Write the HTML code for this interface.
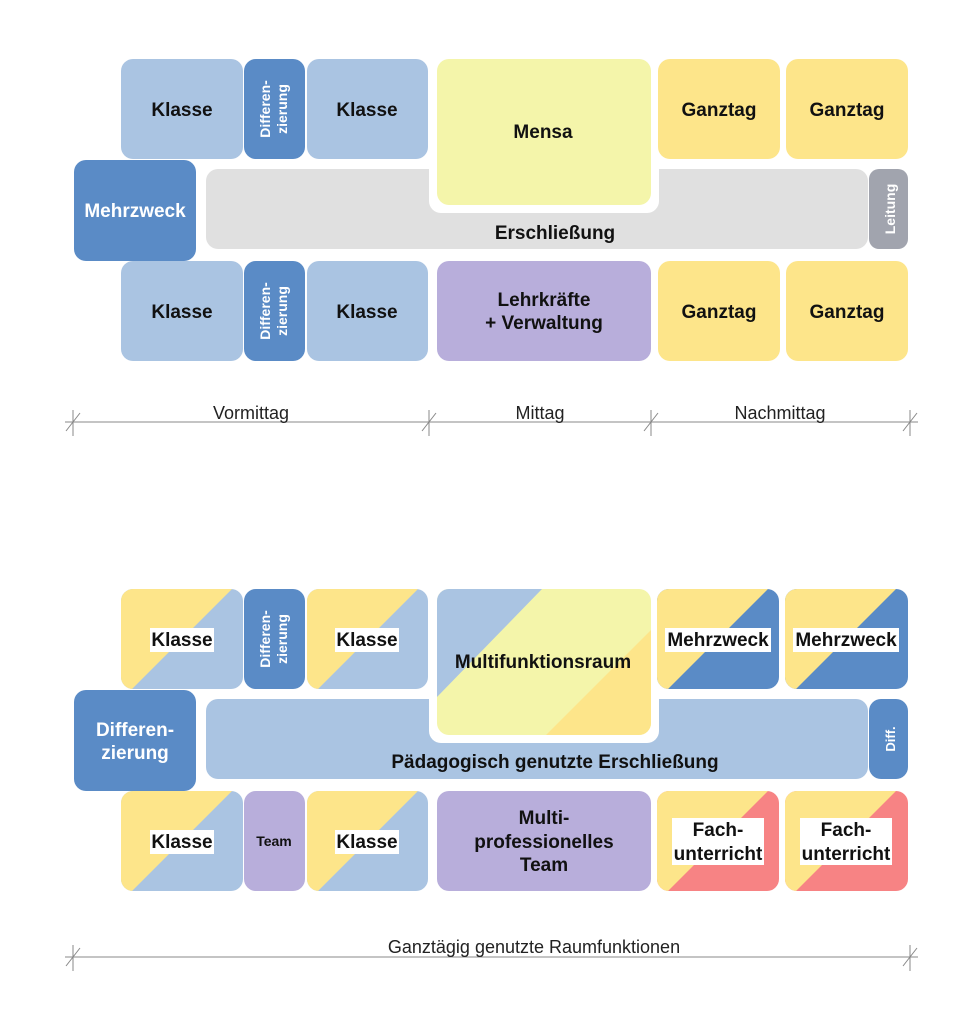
<!DOCTYPE html>
<html><head><meta charset="utf-8"><style>
html,body{margin:0;padding:0;background:#fff;}
svg{display:block;}
text{font-family:"Liberation Sans",Arial,sans-serif;font-weight:bold;font-size:19px;fill:#111;text-anchor:middle;}
.w{fill:#fff;}
.n{font-weight:normal;font-size:18px;fill:#222;}
</style></head><body>
<svg width="977" height="1024" viewBox="0 0 977 1024" xmlns="http://www.w3.org/2000/svg">
<defs>
<clipPath id="c1"><rect x="121" y="589" width="122" height="100" rx="12"/></clipPath>
<clipPath id="c2"><rect x="307" y="589" width="121" height="100" rx="12"/></clipPath>
<clipPath id="c3"><rect x="121" y="791" width="122" height="100" rx="12"/></clipPath>
<clipPath id="c4"><rect x="307" y="791" width="121" height="100" rx="12"/></clipPath>
<clipPath id="c5"><rect x="657" y="589" width="122" height="100" rx="12"/></clipPath>
<clipPath id="c6"><rect x="785" y="589" width="123" height="100" rx="12"/></clipPath>
<clipPath id="c7"><rect x="657" y="791" width="122" height="100" rx="12"/></clipPath>
<clipPath id="c8"><rect x="785" y="791" width="123" height="100" rx="12"/></clipPath>
<clipPath id="c9"><rect x="437" y="589" width="214" height="146" rx="12"/></clipPath>
</defs>

<!-- ===== TOP ===== -->
<rect x="206" y="169" width="662" height="80" rx="12" fill="#e0e0e0"/>
<rect x="429" y="150" width="230" height="63" rx="12" fill="#fff"/>
<rect x="437" y="59" width="214" height="146" rx="12" fill="#f4f5aa"/>
<text x="543" y="138">Mensa</text>
<text x="555" y="239">Erschließung</text>

<rect x="121" y="59" width="122" height="100" rx="12" fill="#aac4e2"/>
<rect x="307" y="59" width="121" height="100" rx="12" fill="#aac4e2"/>
<rect x="244" y="59" width="61" height="100" rx="12" fill="#5a8bc6"/>
<text x="182" y="116">Klasse</text>
<text x="367" y="116">Klasse</text>
<text transform="translate(270,109) rotate(-90)" class="w" style="font-size:14px">Differen-</text>
<text transform="translate(287,109) rotate(-90)" class="w" style="font-size:14px">zierung</text>

<rect x="74" y="160" width="122" height="101" rx="12" fill="#5a8bc6"/>
<text x="135" y="217" class="w">Mehrzweck</text>

<rect x="869" y="169" width="39" height="80" rx="10" fill="#a1a4ae"/>
<text transform="translate(895,209) rotate(-90)" class="w" style="font-size:14px">Leitung</text>

<rect x="658" y="59" width="122" height="100" rx="12" fill="#fde58a"/>
<rect x="786" y="59" width="122" height="100" rx="12" fill="#fde58a"/>
<text x="719" y="116">Ganztag</text>
<text x="847" y="116">Ganztag</text>

<rect x="121" y="261" width="122" height="100" rx="12" fill="#aac4e2"/>
<rect x="307" y="261" width="121" height="100" rx="12" fill="#aac4e2"/>
<rect x="244" y="261" width="61" height="100" rx="12" fill="#5a8bc6"/>
<text x="182" y="318">Klasse</text>
<text x="367" y="318">Klasse</text>
<text transform="translate(270,311) rotate(-90)" class="w" style="font-size:14px">Differen-</text>
<text transform="translate(287,311) rotate(-90)" class="w" style="font-size:14px">zierung</text>

<rect x="437" y="261" width="214" height="100" rx="12" fill="#b8aedb"/>
<text x="544" y="306">Lehrkräfte</text>
<text x="544" y="329">+ Verwaltung</text>

<rect x="658" y="261" width="122" height="100" rx="12" fill="#fde58a"/>
<rect x="786" y="261" width="122" height="100" rx="12" fill="#fde58a"/>
<text x="719" y="318">Ganztag</text>
<text x="847" y="318">Ganztag</text>

<g stroke="#888" stroke-width="1">
<line x1="65" y1="422" x2="918" y2="422"/>
<line x1="73" y1="410" x2="73" y2="436"/><line x1="66" y1="431" x2="80" y2="413"/>
<line x1="429" y1="410" x2="429" y2="436"/><line x1="422" y1="431" x2="436" y2="413"/>
<line x1="651" y1="410" x2="651" y2="436"/><line x1="644" y1="431" x2="658" y2="413"/>
<line x1="910" y1="410" x2="910" y2="436"/><line x1="903" y1="431" x2="917" y2="413"/>
</g>
<text x="251" y="419" class="n">Vormittag</text>
<text x="540" y="419" class="n">Mittag</text>
<text x="780" y="419" class="n">Nachmittag</text>

<!-- ===== BOTTOM ===== -->
<rect x="206" y="699" width="662" height="80" rx="12" fill="#aac4e2"/>
<rect x="429" y="680" width="230" height="63" rx="12" fill="#fff"/>
<g clip-path="url(#c9)">
<rect x="437" y="589" width="214" height="146" fill="#f4f5aa"/>
<polygon points="437,589 542,589 437,697" fill="#aac4e2"/>
<polygon points="651,630 651,735 546,735" fill="#fde58a"/>
</g>
<text x="543" y="668">Multifunktionsraum</text>
<text x="555" y="768">Pädagogisch genutzte Erschließung</text>

<g clip-path="url(#c1)"><rect x="121" y="589" width="122" height="100" fill="#aac4e2"/><polygon points="121,589 232,589 132,689 121,689" fill="#fde58a"/></g>
<g clip-path="url(#c2)"><rect x="307" y="589" width="121" height="100" fill="#aac4e2"/><polygon points="307,589 418,589 318,689 307,689" fill="#fde58a"/></g>
<g clip-path="url(#c3)"><rect x="121" y="791" width="122" height="100" fill="#aac4e2"/><polygon points="121,791 232,791 132,891 121,891" fill="#fde58a"/></g>
<g clip-path="url(#c4)"><rect x="307" y="791" width="121" height="100" fill="#aac4e2"/><polygon points="307,791 418,791 318,891 307,891" fill="#fde58a"/></g>
<g clip-path="url(#c5)"><rect x="657" y="589" width="122" height="100" fill="#5a8bc6"/><polygon points="657,589 768,589 668,689 657,689" fill="#fde58a"/></g>
<g clip-path="url(#c6)"><rect x="785" y="589" width="123" height="100" fill="#5a8bc6"/><polygon points="785,589 896,589 796,689 785,689" fill="#fde58a"/></g>
<g clip-path="url(#c7)"><rect x="657" y="791" width="122" height="100" fill="#f78384"/><polygon points="657,791 768,791 668,891 657,891" fill="#fde58a"/></g>
<g clip-path="url(#c8)"><rect x="785" y="791" width="123" height="100" fill="#f78384"/><polygon points="785,791 896,791 796,891 785,891" fill="#fde58a"/></g>

<rect x="244" y="589" width="61" height="100" rx="12" fill="#5a8bc6"/>
<text transform="translate(270,639) rotate(-90)" class="w" style="font-size:14px">Differen-</text>
<text transform="translate(287,639) rotate(-90)" class="w" style="font-size:14px">zierung</text>
<rect x="244" y="791" width="61" height="100" rx="12" fill="#b8aedb"/>
<text x="274" y="846" style="font-size:14px">Team</text>

<g fill="#fff">
<rect x="150" y="628" width="64" height="24"/><rect x="335" y="628" width="64" height="24"/>
<rect x="150" y="830" width="64" height="24"/><rect x="335" y="830" width="64" height="24"/>
<rect x="665" y="628" width="106" height="24"/><rect x="793" y="628" width="106" height="24"/>
<rect x="672" y="818" width="92" height="47"/><rect x="800" y="818" width="92" height="47"/>
</g>
<text x="182" y="646">Klasse</text><text x="367" y="646">Klasse</text>
<text x="182" y="848">Klasse</text><text x="367" y="848">Klasse</text>
<text x="718" y="646">Mehrzweck</text><text x="846" y="646">Mehrzweck</text>
<text x="718" y="836">Fach-</text><text x="718" y="860">unterricht</text>
<text x="846" y="836">Fach-</text><text x="846" y="860">unterricht</text>

<rect x="74" y="690" width="122" height="101" rx="12" fill="#5a8bc6"/>
<text x="135" y="736" class="w">Differen-</text>
<text x="135" y="759" class="w">zierung</text>

<rect x="869" y="699" width="39" height="80" rx="12" fill="#5a8bc6"/>
<text transform="translate(895,739) rotate(-90)" class="w" style="font-size:13px">Diff.</text>

<rect x="437" y="791" width="214" height="100" rx="12" fill="#b8aedb"/>
<text x="544" y="824">Multi-</text>
<text x="544" y="848">professionelles</text>
<text x="544" y="871">Team</text>

<g stroke="#888" stroke-width="1">
<line x1="65" y1="957" x2="918" y2="957"/>
<line x1="73" y1="945" x2="73" y2="971"/><line x1="66" y1="966" x2="80" y2="948"/>
<line x1="910" y1="945" x2="910" y2="971"/><line x1="903" y1="966" x2="917" y2="948"/>
</g>
<text x="534" y="953" class="n">Ganztägig genutzte Raumfunktionen</text>
</svg>
</body></html>
